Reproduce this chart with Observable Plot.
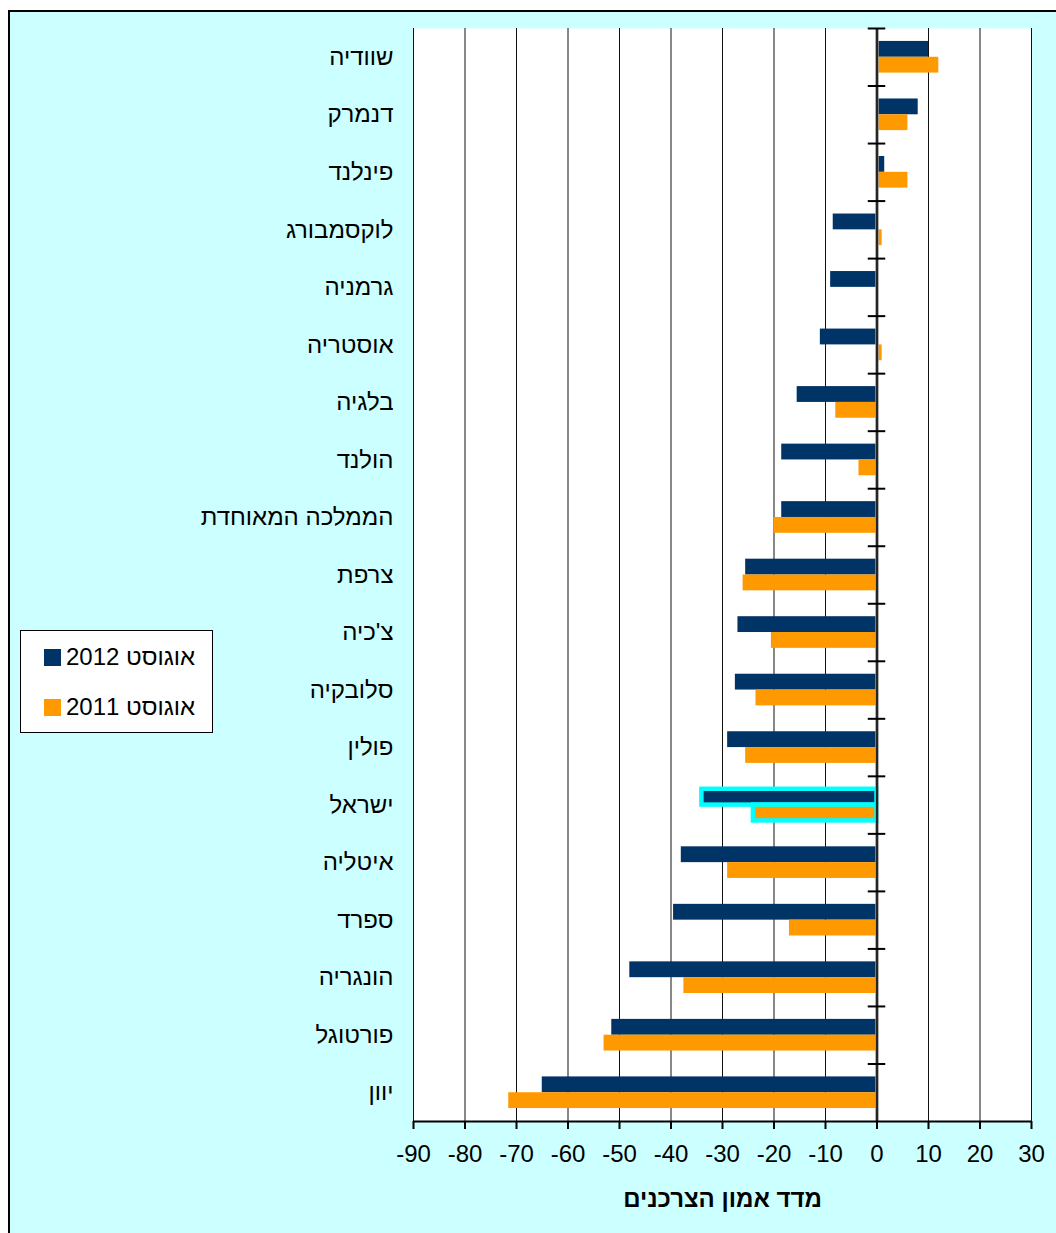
<!DOCTYPE html>
<html><head><meta charset="utf-8">
<script src="https://cdn.jsdelivr.net/npm/d3@7"></script>
<script src="https://cdn.jsdelivr.net/npm/@observablehq/plot@0.6"></script>
<style>
body{margin:0;background:#fff;font-family:"Liberation Sans",Arial,sans-serif}
#wrap{position:relative;width:1056px;height:1233px;overflow:hidden}
#frame{position:absolute;left:8px;top:10px;width:1100px;height:1300px;background:#CCFFFF;border:2px solid #000}
#chart{position:absolute;left:0;top:0}
#legend{position:absolute;left:20px;top:630px;width:191px;height:101px;background:#fff;border:1.5px solid #000}
.row{position:absolute;left:23px;display:flex;align-items:center;font-size:24px;line-height:24px;color:#000}
.sw{width:17px;height:17px;margin-right:5px}
</style></head>
<body>
<div id="wrap">
  <div id="frame"></div>
  <div id="chart"></div>
  <div id="legend"></div>
</div>
<script>
const countries = ["שוודיה","דנמרק","פינלנד","לוקסמבורג","גרמניה","אוסטריה","בלגיה","הולנד","הממלכה המאוחדת","צרפת","צ'כיה","סלובקיה","פולין","ישראל","איטליה","ספרד","הונגריה","פורטוגל","יוון"];
const aug2012 = [10, 8, 1.5, -8.5, -9, -11, -15.5, -18.5, -18.5, -25.5, -27, -27.5, -29, -34, -38, -39.5, -48, -51.5, -65];
const aug2011 = [12, 6, 6, 1, 0, 1, -8, -3.5, -20, -26, -20.5, -23.5, -25.5, -24, -29, -17, -37.5, -53, -71.5];
const seriesNames = ["אוגוסט 2012", "אוגוסט 2011"];
const seriesColors = ["#003366", "#FF9900"];
const xTicks = [-90, -80, -70, -60, -50, -40, -30, -20, -10, 0, 10, 20, 30];
const highlight = "ישראל";
const axisTitle = "מדד אמון הצרכנים";

const W = 1056, H = 1233, mT = 28, mB = 112, mL = 413, mR = 25;
const padIn = 0.45;
const step = (H - mT - mB) / countries.length;
const half = step * (1 - padIn) / 2;
const TICK = 1.7;

const rows2012 = countries.map((c, i) => ({country: c, value: aug2012[i]}));
const rows2011 = countries.map((c, i) => ({country: c, value: aug2011[i]}));
const isHi = d => d.country === highlight;

const chart = Plot.plot({
  width: W, height: H,
  marginTop: mT, marginBottom: mB, marginLeft: mL, marginRight: mR,
  style: {background: "transparent", fontFamily: "Liberation Sans, Arial, sans-serif", fontSize: "24px", color: "#000"},
  x: {domain: [xTicks[0], xTicks[xTicks.length - 1]]},
  y: {domain: countries, paddingInner: padIn, paddingOuter: padIn / 2, round: false},
  marks: [
    Plot.frame({fill: "#fff", stroke: "none"}),
    Plot.ruleX(xTicks, {stroke: "#111", strokeWidth: 1}),
    Plot.barX(rows2012, {x: "value", y: "country", fill: seriesColors[0], insetBottom: half}),
    Plot.barX(rows2011, {x: "value", y: "country", fill: seriesColors[1], insetTop: half}),
    Plot.barX(rows2012.filter(isHi), {x: "value", y: "country", fill: seriesColors[0], insetBottom: half, stroke: "#00FFFF", strokeWidth: 4.5}),
    Plot.barX(rows2011.filter(isHi), {x: "value", y: "country", fill: seriesColors[1], insetTop: half, stroke: "#00FFFF", strokeWidth: 4.5}),
    Plot.ruleX([0], {stroke: "#999", strokeWidth: 3.5}),
    Plot.ruleX([0], {stroke: "#000", strokeWidth: 1.5}),
    Plot.ruleY(countries, {y: d => d, x1: -TICK, x2: TICK, dy: -step / 2, stroke: "#000", strokeWidth: 2}),
    Plot.ruleY(countries.slice(-1), {y: d => d, x1: xTicks[0], x2: xTicks[xTicks.length - 1], dy: step / 2, stroke: "#000", strokeWidth: 2}),
    Plot.axisY({tickSize: 0, tickPadding: 20, fontSize: 24, label: null}),
    Plot.axisX({ticks: xTicks, tickSize: 8, tickPadding: 15, tickFormat: d => String(d), fontSize: 24, label: null, strokeWidth: 2}),
    Plot.text([axisTitle], {frameAnchor: "bottom", dy: 85, fontWeight: "bold", fontSize: 24})
  ]
});
document.getElementById("chart").appendChild(chart);

const legend = document.getElementById("legend");
seriesNames.forEach((name, i) => {
  const row = document.createElement("div");
  row.className = "row";
  row.style.top = (i === 0 ? 14 : 64) + "px";
  const sw = document.createElement("div");
  sw.className = "sw";
  sw.style.background = seriesColors[i];
  const t = document.createElement("span");
  t.dir = "rtl";
  t.textContent = name;
  row.appendChild(sw);
  row.appendChild(t);
  legend.appendChild(row);
});
</script>
</body></html>
